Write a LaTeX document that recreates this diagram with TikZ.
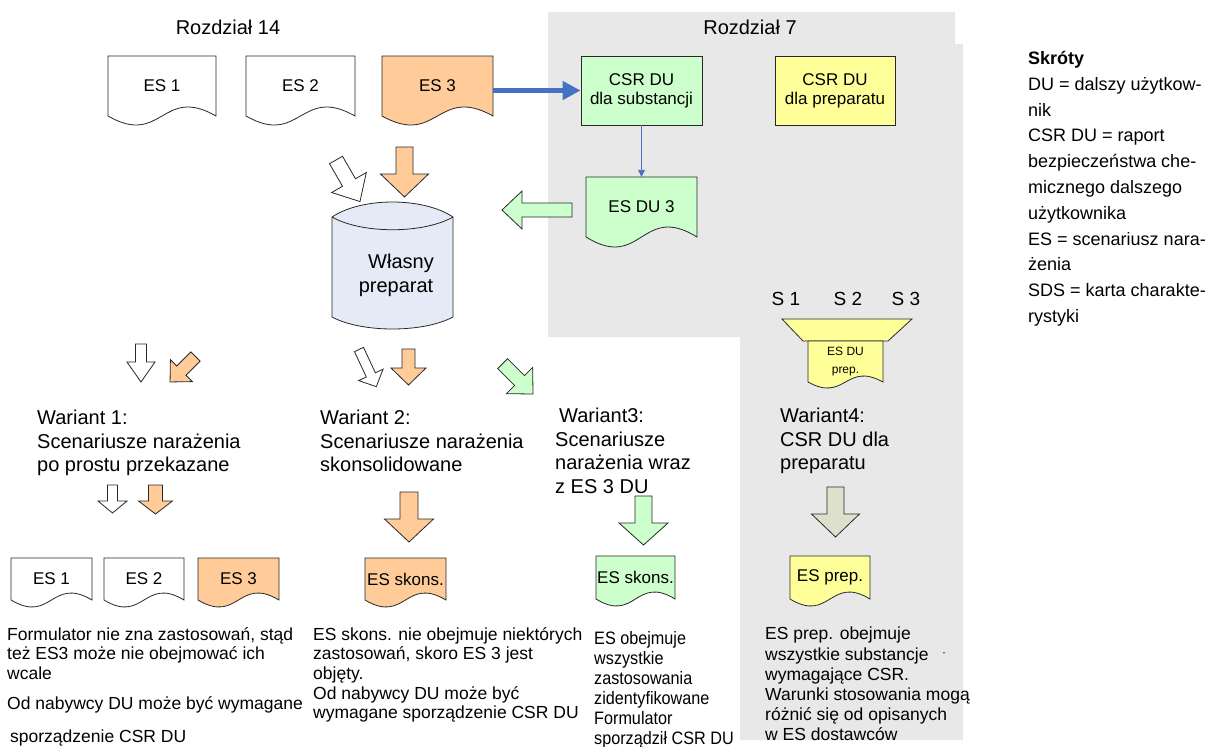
\documentclass[tikz,border=0pt]{standalone}
\usepackage{fontspec}
\setmainfont{Liberation Sans}
\newfontfamily\narrowfont[FakeStretch=0.9]{Liberation Sans}
\usetikzlibrary{arrows.meta,calc}

\definecolor{esorange}{RGB}{255,204,153}
\definecolor{esgreen}{RGB}{204,255,204}
\definecolor{esyellow}{RGB}{255,255,153}
\definecolor{cylblue}{RGB}{228,235,247}
\definecolor{panelgray}{RGB}{232,232,232}
\definecolor{olivegray}{RGB}{221,224,204}
\definecolor{linkblue}{RGB}{68,114,196}
\definecolor{outline}{RGB}{40,40,40}

\newcommand\fs[2]{\fontsize{#1}{#2}\selectfont}

\tikzset{
  docline/.style={draw=outline, line width=0.8pt},
  doclabel/.style={font=\fs{17}{20}},
  smalllabel/.style={font=\fs{12}{18}},
  title/.style={font=\fs{20}{24}, inner sep=0pt},
  slabel/.style={font=\fs{19}{22}, inner sep=0pt},
  box/.style={docline, align=center, font=\fs{17}{19}, inner sep=0pt},
  wtext/.style={anchor=north west, inner sep=0pt, align=left, font=\fs{20}{23.5}},
  note/.style={anchor=north west, inner sep=0pt, align=left, font=\fs{17.5}{19.7}},
  bluebar/.style={linkblue, line width=5pt, -{Triangle[length=18pt,width=18pt]}},
  bluethin/.style={linkblue, line width=0.9pt, -{Triangle[length=7pt,width=7pt]}},
}

% document symbol: straight top and sides, wavy bottom edge
% #1 name, #2 x1, #3 y1, #4 x2, #5 lowest point of the wave, #6 wave amplitude,
% #7 fill, #8 label style, #9 label
\newcommand\docshape[9]{%
  \filldraw[docline, fill=#7] (#2,#3) -- (#4,#3) -- (#4,{#5-#6})
    .. controls ({(#2+#4)/2},{#5-#6-3.46*#6}) and ({(#2+#4)/2},{#5-#6+3.46*#6}) .. (#2,{#5-#6}) -- cycle;
  \node[#8, align=center, inner sep=0pt, minimum width={#4-#2}, minimum height={#5-#6-#3}]
    (#1) at ({(#2+#4)/2},{(#3+#5-#6)/2}) {#9};
}

% block arrow: #1,#2 tail centre, #3 direction (clockwise from east),
% #4 length, #5 shaft width, #6 head width, #7 head length, #8 fill
\newcommand\blockarrow[8]{%
  \begin{scope}[shift={(#1,#2)}, rotate={-(#3)}]
    \filldraw[docline, fill=#8] (0,{-#5/2}) -- ({#4-#7},{-#5/2}) -- ({#4-#7},{-#6/2})
      -- (#4,0) -- ({#4-#7},{#6/2}) -- ({#4-#7},{#5/2}) -- (0,{#5/2}) -- cycle;
  \end{scope}}

\begin{document}
\begin{tikzpicture}[x=1pt,y=-1pt]
\useasboundingbox (0,0) rectangle (1211,747);

% chapter 7 panel
\fill[panelgray] (548,12) -- (955,12) -- (955,44) -- (963,44) -- (963,740)
  -- (740,740) -- (740,337) -- (548,337) -- cycle;

\node[title] (ch14) at (228,27) {Rozdział 14};
\node[title] (ch7) at (750,27) {Rozdział 7};

% supplier exposure scenarios
\docshape{es1top}{108}{56}{216}{125}{9}{white}{doclabel}{ES 1}
\docshape{es2top}{246}{56}{355}{125}{9}{white}{doclabel}{ES 2}
\docshape{es3top}{382}{56}{493}{125}{9}{esorange}{doclabel}{ES 3}

% downstream user CSR boxes
\node[box, fill=esgreen, minimum width=121pt, minimum height=69pt] (csrsub) at (641.5,90.5) {CSR DU\\dla substancji};
\node[box, fill=esyellow, minimum width=120pt, minimum height=69pt] (csrprep) at (835,90.5) {CSR DU\\dla preparatu};

\docshape{esdu3}{586}{177}{697}{247}{10}{esgreen}{doclabel}{ES DU 3}

\draw[bluebar] (csrsub.west -| es3top.east) -- (csrsub.west);
\draw[bluethin] (csrsub.south) -- (esdu3.north);

% own mixture (cylinder)
\filldraw[docline, fill=cylblue] (332,217) .. controls (362,197) and (423,197) .. (453,217)
  -- (453,317) .. controls (423,333) and (362,333) .. (332,317) -- cycle;
\draw[docline] (332,217) .. controls (362,234) and (423,234) .. (453,217);
\node[font=\fs{20}{24}, align=center, inner sep=0pt] (mix) at (396,275) {\hspace*{10pt}Własny\\preparat};

% arrows into the cylinder
\blockarrow{336}{160}{60}{48}{15}{40}{22}{white}
\blockarrow{404.5}{147}{90}{50}{17}{48}{23}{esorange}
\blockarrow{572}{210}{180}{70}{14}{38}{20}{esgreen}

% arrows towards the variants
\blockarrow{141}{344}{90}{38}{11}{28}{20}{white}
\blockarrow{195.5}{356.5}{135}{36}{13}{31}{16}{esorange}
\blockarrow{359}{349.5}{65}{41}{10}{27}{13}{white}
\blockarrow{408.5}{349}{90}{36}{13}{35}{17}{esorange}
\blockarrow{502.6}{363.6}{45}{43}{14}{37}{19}{esgreen}

% mixture CSR (variant 4)
\node[slabel] (s1) at (786,299) {S 1};
\node[slabel] (s2) at (848,299) {S 2};
\node[slabel] (s3) at (906,299) {S 3};
\filldraw[docline, fill=esyellow] (782,319) -- (912,319) -- (888,341) -- (803,341) -- cycle;
\docshape{esduprep}{808}{341}{883}{388}{6}{esyellow}{smalllabel}{ES DU\\prep.}

% variant captions
\node[wtext] (w1) at (37,410) {Wariant 1:\\Scenariusze narażenia\\po prostu przekazane};
\node[wtext] (w2) at (320,410) {Wariant 2:\\Scenariusze narażenia\\skonsolidowane};
\node[wtext] (w3) at (555,408) {\hspace*{4pt}Wariant3:\\Scenariusze\\narażenia wraz\\z ES 3 DU};
\node[wtext] (w4) at (780,408) {Wariant4:\\CSR DU dla\\preparatu};

% arrows towards the resulting scenarios
\blockarrow{112.5}{485}{90}{28}{10}{29}{12}{white}
\blockarrow{155.5}{485}{90}{29}{14}{34}{13}{esorange}
\blockarrow{409}{492}{90}{50}{18}{49}{23}{esorange}
\blockarrow{643.5}{496}{90}{49}{17}{49}{22}{esgreen}
\blockarrow{835.5}{487}{90}{50}{17}{48}{23}{olivegray}

% resulting exposure scenarios
\docshape{es1bot}{11}{558}{92}{607}{7}{white}{doclabel}{ES 1}
\docshape{es2bot}{104}{558}{184}{607}{7}{white}{doclabel}{ES 2}
\docshape{es3bot}{198}{558}{279}{607}{7}{esorange}{doclabel}{ES 3}
\docshape{skonsor}{365}{558}{446}{607}{7}{esorange}{doclabel}{ES skons.}
\docshape{skonsgr}{596}{556}{675}{606}{7}{esgreen}{doclabel}{ES skons.}
\docshape{prep}{790}{556}{870}{606}{7}{esyellow}{doclabel}{ES prep.}

% notes
\node[note] (n1a) at (7,627) {Formulator nie zna zastosowań, stąd\\też ES3 może nie obejmować ich\\wcale};
\node[note] (n1b) at (7,696) {Od nabywcy DU może być wymagane};
\node[note] (n1c) at (10,730) {sporządzenie CSR DU};
\node[note] (n2) at (313,627) {ES skons. nie obejmuje niektórych\\zastosowań, skoro ES 3 jest\\objęty.\\Od nabywcy DU może być\\wymagane sporządzenie CSR DU};
\node[note, font=\fs{18}{20}\narrowfont] (n3) at (594,631) {ES obejmuje\\wszystkie\\zastosowania\\zidentyfikowane\\Formulator\\sporządził CSR DU};
\node[note, font=\fs{17.5}{20.2}] (n4) at (765,627) {ES prep. obejmuje\\wszystkie substancje\\wymagające CSR.\\Warunki stosowania mogą\\różnić się od opisanych\\w ES dostawców};
\node[font=\fs{12}{14}, inner sep=0pt] (dot) at (944,655) {·};

% abbreviations
\node[note, font=\fs{18}{25.8}] (legend) at (1028,51) {\textbf{Skróty}\\DU = dalszy użytkow-\\nik\\CSR DU = raport\\bezpieczeństwa che-\\micznego dalszego\\użytkownika\\ES = scenariusz nara-\\żenia\\SDS = karta charakte-\\rystyki};
\end{tikzpicture}
\end{document}
